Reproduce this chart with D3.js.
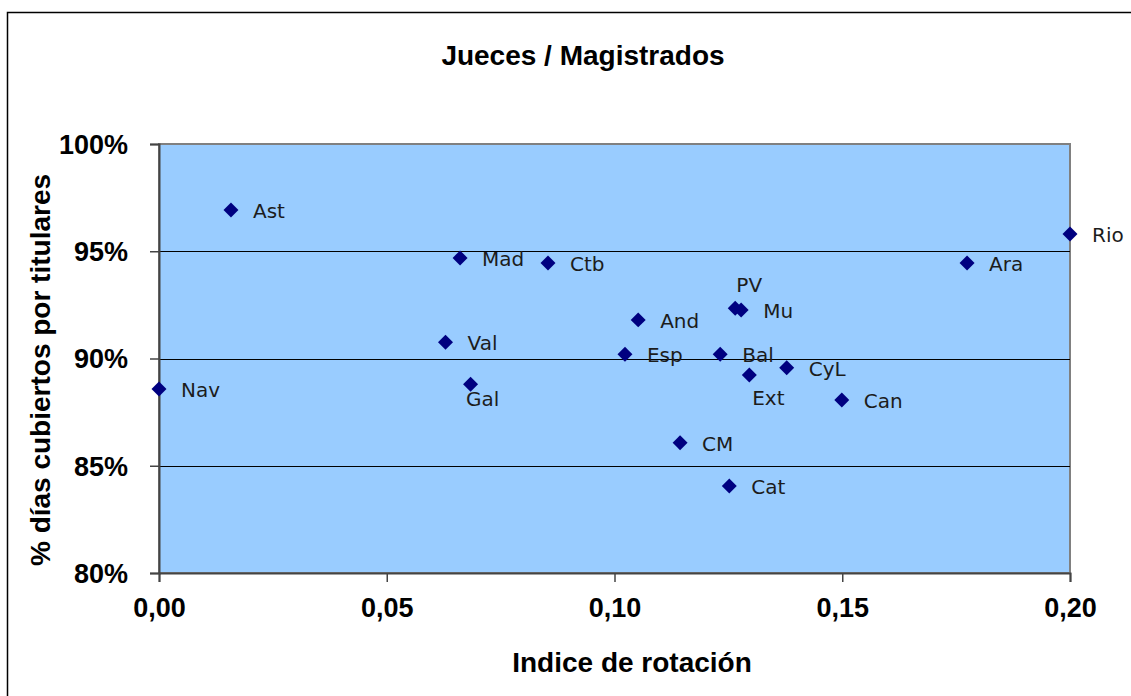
<!DOCTYPE html>
<html>
<head>
<meta charset="utf-8">
<script src="https://cdnjs.cloudflare.com/ajax/libs/d3/7.8.5/d3.min.js"></script>
<style>
  body { margin: 0; background: #fff; }
  svg text { font-family: "Liberation Sans", Arial, sans-serif; }
</style>
</head>
<body>
<div id="vis"></div>
<script>
// Datos
var regiones = ['Ast', 'Mad', 'Ctb', 'Rio', 'Ara', 'PV', 'Mu', 'And', 'Esp', 'Bal',
                'CyL', 'Ext', 'Can', 'CM', 'Cat', 'Val', 'Gal', 'Nav'];
var rotacion = [0.0158, 0.0661, 0.0854, 0.2000, 0.1774, 0.1265, 0.1278, 0.1052, 0.1023, 0.1232,
                0.1378, 0.1296, 0.1499, 0.1144, 0.1252, 0.0629, 0.0684, 0.0000];
var cubiertos = [0.9692, 0.9469, 0.9445, 0.9580, 0.9445, 0.9234, 0.9226, 0.9180, 0.9020, 0.9020,
                 0.8957, 0.8923, 0.8807, 0.8607, 0.8406, 0.9076, 0.8880, 0.8858];
var xTicks = [0, 0.05, 0.10, 0.15, 0.20];
var yTicks = [0.80, 0.85, 0.90, 0.95, 1.00];

// Grösse des Fensters
var width = 1131;
var height = 696;
var margin = {left: 159, top: 144, right: 1070, bottom: 573};

// Etiquetas que no van a la derecha del punto
var labelPos = {
    PV:  {anchor: 'middle', dx: 14, dy: -16},
    Gal: {anchor: 'middle', dx: 12, dy: 22},
    Ext: {anchor: 'middle', dx: 19, dy: 30}
};

var data = regiones.map(function (r, i) {
    return {name: r, x: rotacion[i], y: cubiertos[i]};
});

var svg = d3.select('#vis').append('svg')
    .attr('width', width)
    .attr('height', height);

// Rahmen
svg.append('rect')
    .attr('x', 7.5).attr('y', 12.5)
    .attr('width', 1300).attr('height', 800)
    .attr('fill', 'none').attr('stroke', '#000').attr('stroke-width', 1.5);

var x = d3.scaleLinear().domain([0, 0.20]).range([margin.left, margin.right]);
var y = d3.scaleLinear().domain([0.80, 1.00]).range([margin.bottom, margin.top]);

// Plot background
svg.append('rect')
    .attr('x', x(0)).attr('y', y(1))
    .attr('width', x(0.20) - x(0)).attr('height', y(0.80) - y(1))
    .attr('fill', '#99ccff')
    .attr('stroke', '#808080').attr('stroke-width', 2);

// gridlines
svg.append('g')
    .selectAll('line')
    .data(yTicks.filter(function (d) { return d > 0.80 && d < 1.00; }))
    .enter().append('line')
    .attr('x1', x(0)).attr('x2', x(0.20))
    .attr('y1', function (d) { return Math.round(y(d)) + 0.5; })
    .attr('y2', function (d) { return Math.round(y(d)) + 0.5; })
    .attr('stroke', '#000').attr('stroke-width', 1.2);

// axes
var fmtX = function (d) { return d3.format('.2f')(d).replace('.', ','); };
var xAxis = svg.append('g')
    .attr('transform', 'translate(0,' + y(0.80) + ')')
    .call(d3.axisBottom(x).tickValues(xTicks).tickSize(9).tickFormat(fmtX));
var yAxis = svg.append('g')
    .attr('transform', 'translate(' + x(0) + ',0)')
    .call(d3.axisLeft(y).tickValues(yTicks).tickSize(9).tickFormat(d3.format('.0%')));

[xAxis, yAxis].forEach(function (a) {
    a.select('.domain').attr('stroke', '#444').attr('stroke-width', 2);
    a.selectAll('.tick line').attr('stroke', '#444').attr('stroke-width', 1.5);
    a.selectAll('.tick text')
        .attr('fill', '#000')
        .style('font-family', '"Liberation Sans", Arial, sans-serif')
        .style('font-weight', 'bold')
        .style('font-size', '27px');
});
xAxis.selectAll('.tick text').attr('y', 44).attr('dy', null);
yAxis.selectAll('.tick text').attr('x', -31).attr('dy', '0.35em');

// markers
svg.append('g')
    .selectAll('path')
    .data(data)
    .enter().append('path')
    .attr('d', d3.symbol(d3.symbolSquare, 112))
    .attr('transform', function (d) {
        return 'translate(' + x(d.x) + ',' + y(d.y) + ') rotate(45)';
    })
    .attr('fill', '#000080');

// labels
svg.append('g')
    .selectAll('text')
    .data(data)
    .enter().append('text')
    .attr('x', function (d) {
        var p = labelPos[d.name];
        return x(d.x) + (p ? p.dx : 22);
    })
    .attr('y', function (d) {
        var p = labelPos[d.name];
        return y(d.y) + (p ? p.dy : 8);
    })
    .attr('text-anchor', function (d) {
        var p = labelPos[d.name];
        return p ? p.anchor : 'start';
    })
    .style('font-family', '"DejaVu Sans", Verdana, sans-serif')
    .style('font-size', '20px')
    .attr('fill', '#1c1c1c')
    .text(function (d) { return d.name; });

// Titel
svg.append('text')
    .attr('x', 583).attr('y', 65)
    .attr('text-anchor', 'middle')
    .style('font-weight', 'bold').style('font-size', '28px')
    .text('Jueces / Magistrados');

svg.append('text')
    .attr('x', 632).attr('y', 672)
    .attr('text-anchor', 'middle')
    .style('font-weight', 'bold').style('font-size', '28px')
    .text('Indice de rotación');

svg.append('text')
    .attr('transform', 'translate(50,370) rotate(-90)')
    .attr('text-anchor', 'middle')
    .style('font-weight', 'bold').style('font-size', '28px')
    .text('% días cubiertos por titulares');
</script>
</body>
</html>
